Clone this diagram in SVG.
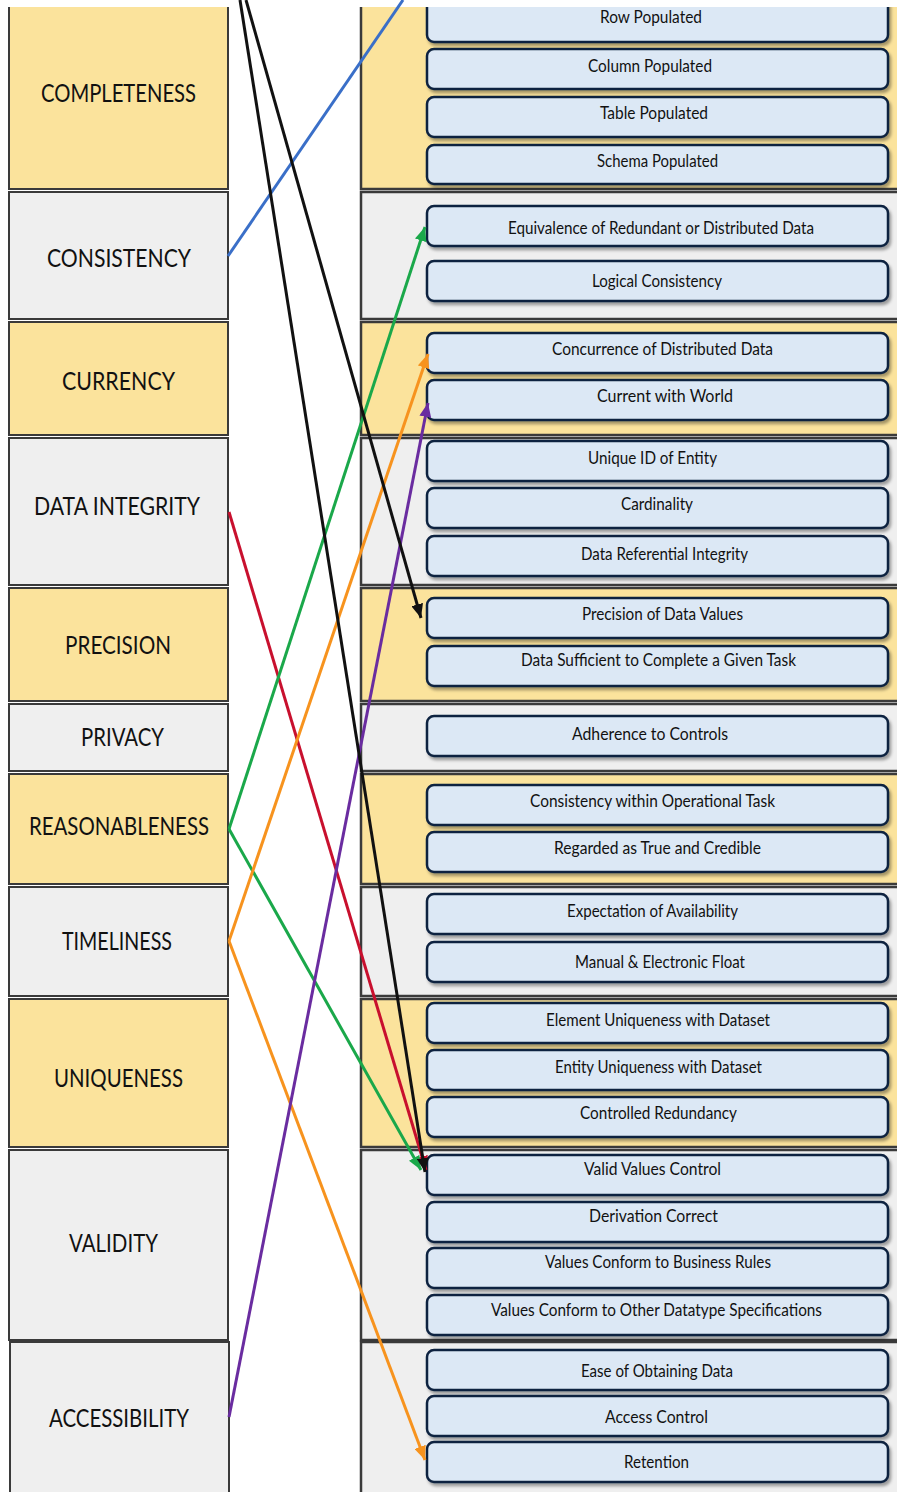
<svg xmlns="http://www.w3.org/2000/svg" width="897" height="1492" viewBox="0 0 897 1492">
<defs>
<style>
.lb{stroke:#3a3a3a;stroke-width:2}
.y{fill:#fbe39c}
.g{fill:#efefef}
.band{stroke:#3a3a3a;stroke-width:2.5}
.ib{fill:#dce8f5;stroke:#0f2440;stroke-width:2.5;filter:url(#sh)}
.lt{font-family:Lato,"Liberation Sans",sans-serif;font-size:25px;fill:#111;text-anchor:middle}
.rt{font-family:Lato,"Liberation Sans",sans-serif;font-size:17px;fill:#111;text-anchor:middle}
.c{fill:none;stroke-width:3}
</style>
<filter id="sh" x="-5%" y="-20%" width="110%" height="150%">
<feDropShadow dx="2" dy="3" stdDeviation="1.5" flood-color="#000" flood-opacity="0.35"/>
</filter>
<marker id="ak" markerUnits="userSpaceOnUse" markerWidth="16" markerHeight="12" refX="14" refY="6" orient="auto"><path d="M0,0 L14,6 L0,12 Z" fill="#111"/></marker>
<marker id="ag" markerUnits="userSpaceOnUse" markerWidth="16" markerHeight="12" refX="14" refY="6" orient="auto"><path d="M0,0 L14,6 L0,12 Z" fill="#1aa84a"/></marker>
<marker id="ao" markerUnits="userSpaceOnUse" markerWidth="16" markerHeight="12" refX="14" refY="6" orient="auto"><path d="M0,0 L14,6 L0,12 Z" fill="#f7931e"/></marker>
<marker id="ap" markerUnits="userSpaceOnUse" markerWidth="16" markerHeight="12" refX="14" refY="6" orient="auto"><path d="M0,0 L14,6 L0,12 Z" fill="#6a2ca0"/></marker>
<marker id="ar" markerUnits="userSpaceOnUse" markerWidth="16" markerHeight="12" refX="14" refY="6" orient="auto"><path d="M0,0 L14,6 L0,12 Z" fill="#c8102e"/></marker>
</defs>
<rect width="897" height="1492" fill="#fff"/>

<g id="bands">
<rect class="band y" x="361" y="-5" width="545" height="194"/>
<rect class="band g" x="361" y="192" width="545" height="127"/>
<rect class="band y" x="361" y="322" width="545" height="113"/>
<rect class="band g" x="361" y="438" width="545" height="147"/>
<rect class="band y" x="361" y="588" width="545" height="113"/>
<rect class="band g" x="361" y="704" width="545" height="67"/>
<rect class="band y" x="361" y="774" width="545" height="110"/>
<rect class="band g" x="361" y="887" width="545" height="109"/>
<rect class="band y" x="361" y="999" width="545" height="148"/>
<rect class="band g" x="361" y="1150" width="545" height="190"/>
<rect class="band g" x="361" y="1342" width="545" height="160"/>
</g>

<g id="n-completeness"><rect class="lb y" x="9" y="-5" width="219" height="194"/><text class="lt" x="118.5" y="102" textLength="155" lengthAdjust="spacingAndGlyphs">COMPLETENESS</text></g>
<g id="n-consistency"><rect class="lb g" x="9" y="192" width="219" height="127"/><text class="lt" x="119" y="267" textLength="144" lengthAdjust="spacingAndGlyphs">CONSISTENCY</text></g>
<g id="n-currency"><rect class="lb y" x="9" y="322" width="219" height="113"/><text class="lt" x="118.5" y="390" textLength="113" lengthAdjust="spacingAndGlyphs">CURRENCY</text></g>
<g id="n-dataintegrity"><rect class="lb g" x="9" y="438" width="219" height="147"/><text class="lt" x="117" y="515" textLength="166" lengthAdjust="spacingAndGlyphs">DATA INTEGRITY</text></g>
<g id="n-precision"><rect class="lb y" x="9" y="588" width="219" height="113"/><text class="lt" x="118" y="654" textLength="106" lengthAdjust="spacingAndGlyphs">PRECISION</text></g>
<g id="n-privacy"><rect class="lb g" x="9" y="704" width="219" height="67"/><text class="lt" x="122.5" y="746" textLength="83" lengthAdjust="spacingAndGlyphs">PRIVACY</text></g>
<g id="n-reasonableness"><rect class="lb y" x="9" y="774" width="219" height="110"/><text class="lt" x="119" y="835" textLength="180" lengthAdjust="spacingAndGlyphs">REASONABLENESS</text></g>
<g id="n-timeliness"><rect class="lb g" x="9" y="887" width="219" height="109"/><text class="lt" x="117" y="950" textLength="110" lengthAdjust="spacingAndGlyphs">TIMELINESS</text></g>
<g id="n-uniqueness"><rect class="lb y" x="9" y="999" width="219" height="148"/><text class="lt" x="118.5" y="1087" textLength="129" lengthAdjust="spacingAndGlyphs">UNIQUENESS</text></g>
<g id="n-validity"><rect class="lb g" x="9" y="1150" width="219" height="190"/><text class="lt" x="113.5" y="1252" textLength="89" lengthAdjust="spacingAndGlyphs">VALIDITY</text></g>
<g id="n-accessibility"><rect class="lb g" x="10" y="1342" width="219" height="160"/><text class="lt" x="119" y="1427" textLength="140" lengthAdjust="spacingAndGlyphs">ACCESSIBILITY</text></g>

<g id="r-row"><rect class="ib" x="427" y="-2" width="461" height="44" rx="7"/><text class="rt" x="651" y="23" textLength="102" lengthAdjust="spacingAndGlyphs">Row Populated</text></g>
<g id="r-column"><rect class="ib" x="427" y="49" width="461" height="40" rx="7"/><text class="rt" x="650" y="72" textLength="124" lengthAdjust="spacingAndGlyphs">Column Populated</text></g>
<g id="r-table"><rect class="ib" x="427" y="97" width="461" height="40" rx="7"/><text class="rt" x="654" y="119" textLength="108" lengthAdjust="spacingAndGlyphs">Table Populated</text></g>
<g id="r-schema"><rect class="ib" x="427" y="145" width="461" height="39" rx="7"/><text class="rt" x="657.5" y="167" textLength="121" lengthAdjust="spacingAndGlyphs">Schema Populated</text></g>
<g id="r-equiv"><rect class="ib" x="427" y="206" width="461" height="40" rx="7"/><text class="rt" x="661" y="234" textLength="306" lengthAdjust="spacingAndGlyphs">Equivalence of Redundant or Distributed Data</text></g>
<g id="r-logical"><rect class="ib" x="427" y="261" width="461" height="40" rx="7"/><text class="rt" x="657" y="287" textLength="130" lengthAdjust="spacingAndGlyphs">Logical Consistency</text></g>
<g id="r-concurrence"><rect class="ib" x="427" y="333" width="461" height="40" rx="7"/><text class="rt" x="662.5" y="355" textLength="221" lengthAdjust="spacingAndGlyphs">Concurrence of Distributed Data</text></g>
<g id="r-current"><rect class="ib" x="427" y="380" width="461" height="40" rx="7"/><text class="rt" x="665" y="402" textLength="136" lengthAdjust="spacingAndGlyphs">Current with World</text></g>
<g id="r-uniqueid"><rect class="ib" x="427" y="441" width="461" height="40" rx="7"/><text class="rt" x="652.5" y="464" textLength="129" lengthAdjust="spacingAndGlyphs">Unique ID of Entity</text></g>
<g id="r-cardinality"><rect class="ib" x="427" y="488" width="461" height="40" rx="7"/><text class="rt" x="657" y="510" textLength="72" lengthAdjust="spacingAndGlyphs">Cardinality</text></g>
<g id="r-refint"><rect class="ib" x="427" y="536" width="461" height="40" rx="7"/><text class="rt" x="664.5" y="560" textLength="167" lengthAdjust="spacingAndGlyphs">Data Referential Integrity</text></g>
<g id="r-precision"><rect class="ib" x="427" y="598" width="461" height="40" rx="7"/><text class="rt" x="662.5" y="620" textLength="161" lengthAdjust="spacingAndGlyphs">Precision of Data Values</text></g>
<g id="r-sufficient"><rect class="ib" x="427" y="646" width="461" height="40" rx="7"/><text class="rt" x="658.5" y="666" textLength="275" lengthAdjust="spacingAndGlyphs">Data Sufficient to Complete a Given Task</text></g>
<g id="r-adherence"><rect class="ib" x="427" y="716" width="461" height="40" rx="7"/><text class="rt" x="650" y="740" textLength="156" lengthAdjust="spacingAndGlyphs">Adherence to Controls</text></g>
<g id="r-consop"><rect class="ib" x="427" y="785" width="461" height="40" rx="7"/><text class="rt" x="652.5" y="807" textLength="245" lengthAdjust="spacingAndGlyphs">Consistency within Operational Task</text></g>
<g id="r-regarded"><rect class="ib" x="427" y="832" width="461" height="40" rx="7"/><text class="rt" x="657.5" y="854" textLength="207" lengthAdjust="spacingAndGlyphs">Regarded as True and Credible</text></g>
<g id="r-expect"><rect class="ib" x="427" y="894" width="461" height="40" rx="7"/><text class="rt" x="652.5" y="917" textLength="171" lengthAdjust="spacingAndGlyphs">Expectation of Availability</text></g>
<g id="r-manual"><rect class="ib" x="427" y="942" width="461" height="40" rx="7"/><text class="rt" x="660" y="968" textLength="170" lengthAdjust="spacingAndGlyphs">Manual &amp; Electronic Float</text></g>
<g id="r-element"><rect class="ib" x="427" y="1003" width="461" height="40" rx="7"/><text class="rt" x="658" y="1026" textLength="224" lengthAdjust="spacingAndGlyphs">Element Uniqueness with Dataset</text></g>
<g id="r-entity"><rect class="ib" x="427" y="1050" width="461" height="40" rx="7"/><text class="rt" x="658.5" y="1073" textLength="207" lengthAdjust="spacingAndGlyphs">Entity Uniqueness with Dataset</text></g>
<g id="r-controlled"><rect class="ib" x="427" y="1097" width="461" height="40" rx="7"/><text class="rt" x="658.5" y="1119" textLength="157" lengthAdjust="spacingAndGlyphs">Controlled Redundancy</text></g>
<g id="r-validvalues"><rect class="ib" x="427" y="1155" width="461" height="40" rx="7"/><text class="rt" x="652.5" y="1175" textLength="137" lengthAdjust="spacingAndGlyphs">Valid Values Control</text></g>
<g id="r-derivation"><rect class="ib" x="427" y="1202" width="461" height="40" rx="7"/><text class="rt" x="653.5" y="1222" textLength="129" lengthAdjust="spacingAndGlyphs">Derivation Correct</text></g>
<g id="r-business"><rect class="ib" x="427" y="1248" width="461" height="40" rx="7"/><text class="rt" x="658" y="1268" textLength="226" lengthAdjust="spacingAndGlyphs">Values Conform to Business Rules</text></g>
<g id="r-datatype"><rect class="ib" x="427" y="1295" width="461" height="40" rx="7"/><text class="rt" x="656.5" y="1316" textLength="331" lengthAdjust="spacingAndGlyphs">Values Conform to Other Datatype Specifications</text></g>
<g id="r-ease"><rect class="ib" x="427" y="1350" width="461" height="40" rx="7"/><text class="rt" x="657" y="1377" textLength="152" lengthAdjust="spacingAndGlyphs">Ease of Obtaining Data</text></g>
<g id="r-access"><rect class="ib" x="427" y="1396" width="461" height="40" rx="7"/><text class="rt" x="656.5" y="1423" textLength="103" lengthAdjust="spacingAndGlyphs">Access Control</text></g>
<g id="r-retention"><rect class="ib" x="427" y="1442" width="461" height="40" rx="7"/><text class="rt" x="656.5" y="1468" textLength="65" lengthAdjust="spacingAndGlyphs">Retention</text></g>

<rect x="0" y="0" width="897" height="7" fill="#fff"/>

<g id="connectors">
<path class="c" stroke="#3a6fc8" d="M228,256 L403,0"/>
<path class="c" stroke="#c8102e" marker-end="url(#ar)" d="M229,512 L426,1170"/>
<path class="c" stroke="#1aa84a" marker-end="url(#ag)" d="M229,829 L425,227"/>
<path class="c" stroke="#1aa84a" marker-end="url(#ag)" d="M229,829 L421,1170"/>
<path class="c" stroke="#f7931e" marker-end="url(#ao)" d="M229,941 L428,354"/>
<path class="c" stroke="#f7931e" marker-end="url(#ao)" d="M229,941 L425,1460"/>
<path class="c" stroke="#6a2ca0" marker-end="url(#ap)" d="M229,1417 L428,403"/>
<path class="c" stroke="#111" marker-end="url(#ak)" d="M240,0 L425,1172"/>
<path class="c" stroke="#111" marker-end="url(#ak)" d="M246,0 L421,618"/>
</g>
</svg>
